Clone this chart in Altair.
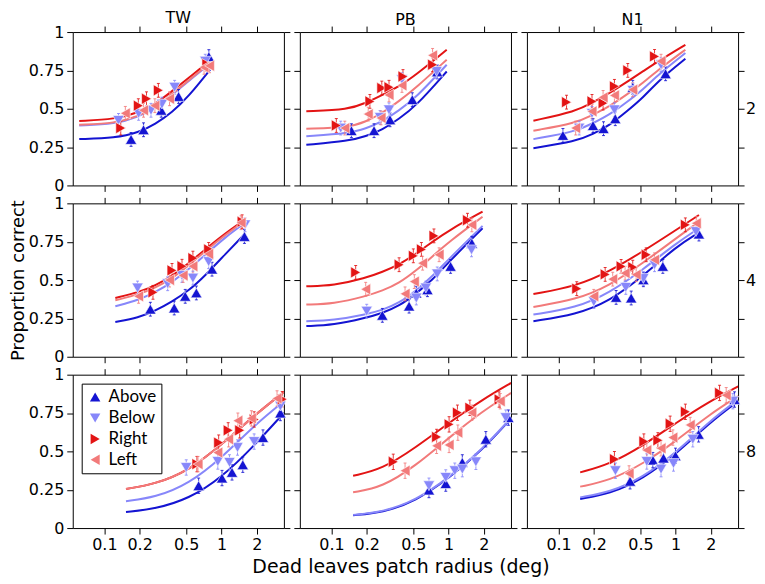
import altair as alt
import pandas as pd

SERIES = ["Above", "Below", "Right", "Left"]
COLORS = ["#1414d2", "#8787fa", "#e31414", "#f27a7a"]
SHAPES = ["triangle-up", "triangle-down", "triangle-right", "triangle-left"]
SUBJECTS = ["TW", "PB", "N1"]
PATCH_SIZES = ["2", "4", "8"]
X_TICKS = [0.1, 0.2, 0.5, 1, 2]
Y_TICKS = [0, 0.25, 0.5, 0.75, 1]
X_DOMAIN = [0.0537, 3.41]
ERR = {"2": 0.045, "4": 0.045, "8": 0.05}
X_TITLE = "Dead leaves patch radius (deg)"
Y_TITLE = "Proportion correct"

# ---------------- data points (x = radius in deg, y = proportion correct)
pts_TW_2 = {
    "Above": ([0.169, 0.216, 0.306, 0.43, 0.78], [0.30, 0.363, 0.49, 0.58, 0.84]),
    "Below": ([0.132, 0.196, 0.25, 0.31, 0.398, 0.727], [0.424, 0.47, 0.49, 0.53, 0.64, 0.81]),
    "Right": ([0.138, 0.195, 0.229, 0.289, 0.75], [0.374, 0.52, 0.565, 0.62, 0.79]),
    "Left": ([0.151, 0.216, 0.27, 0.36, 0.71, 0.79], [0.47, 0.49, 0.52, 0.565, 0.77, 0.78]),
}
pts_PB_2 = {
    "Above": ([0.148, 0.231, 0.316, 0.49, 0.80], [0.357, 0.357, 0.428, 0.559, 0.74]),
    "Below": ([0.12, 0.26, 0.31, 0.40, 0.79], [0.374, 0.443, 0.493, 0.69, 0.743]),
    "Right": ([0.11, 0.213, 0.269, 0.31, 0.408, 0.73], [0.391, 0.548, 0.635, 0.64, 0.71, 0.787]),
    "Left": ([0.13, 0.206, 0.265, 0.31, 0.40, 0.73], [0.374, 0.465, 0.44, 0.59, 0.652, 0.848]),
}
pts_N1_2 = {
    "Above": ([0.109, 0.197, 0.242, 0.305, 0.43, 0.82], [0.326, 0.39, 0.37, 0.435, 0.64, 0.728]),
    "Below": ([0.15, 0.193, 0.30, 0.43, 0.75], [0.374, 0.47, 0.493, 0.62, 0.787]),
    "Right": ([0.117, 0.193, 0.24, 0.30, 0.39, 0.66], [0.543, 0.548, 0.537, 0.646, 0.75, 0.841]),
    "Left": ([0.14, 0.193, 0.24, 0.30, 0.43, 0.75], [0.374, 0.483, 0.574, 0.587, 0.624, 0.81]),
}
pts_TW_4 = {
    "Above": ([0.247, 0.395, 0.49, 0.61, 0.83, 1.57], [0.31, 0.318, 0.394, 0.416, 0.571, 0.784]),
    "Below": ([0.192, 0.347, 0.46, 0.57, 0.777, 1.59], [0.448, 0.476, 0.53, 0.513, 0.62, 0.86]),
    "Right": ([0.26, 0.378, 0.46, 0.57, 0.777, 1.5], [0.42, 0.563, 0.59, 0.643, 0.70, 0.88]),
    "Left": ([0.196, 0.36, 0.47, 0.57, 0.777, 1.47], [0.394, 0.50, 0.53, 0.59, 0.67, 0.874]),
}
pts_PB_4 = {
    "Above": ([0.272, 0.46, 0.53, 0.66, 1.04, 1.58], [0.27, 0.33, 0.415, 0.437, 0.589, 0.74]),
    "Below": ([0.20, 0.53, 0.64, 0.80, 1.57], [0.297, 0.383, 0.448, 0.54, 0.697]),
    "Right": ([0.161, 0.378, 0.50, 0.586, 0.75, 1.45], [0.55, 0.60, 0.658, 0.70, 0.788, 0.89]),
    "Left": ([0.196, 0.425, 0.51, 0.60, 0.83, 1.58], [0.44, 0.41, 0.49, 0.61, 0.665, 0.86]),
}
pts_N1_4 = {
    "Above": ([0.31, 0.417, 0.53, 0.777, 1.58], [0.387, 0.383, 0.502, 0.589, 0.80]),
    "Below": ([0.20, 0.375, 0.53, 0.66, 1.49], [0.36, 0.452, 0.51, 0.60, 0.816]),
    "Right": ([0.143, 0.25, 0.342, 0.43, 0.56, 1.21], [0.444, 0.537, 0.589, 0.584, 0.665, 0.86]),
    "Left": ([0.20, 0.29, 0.37, 0.46, 0.66, 1.5], [0.394, 0.506, 0.545, 0.535, 0.632, 0.87]),
}
pts_TW_8 = {
    "Above": ([0.638, 1.01, 1.23, 1.52, 2.26, 3.18], [0.276, 0.326, 0.363, 0.413, 0.59, 0.75]),
    "Below": ([0.50, 0.93, 1.17, 1.37, 1.9, 3.18], [0.395, 0.434, 0.428, 0.525, 0.564, 0.795]),
    "Right": ([0.617, 0.946, 1.14, 1.43, 1.9, 3.3], [0.417, 0.557, 0.637, 0.637, 0.708, 0.84]),
    "Left": ([0.63, 0.93, 1.15, 1.38, 1.8, 2.98], [0.417, 0.492, 0.579, 0.70, 0.715, 0.845]),
}
pts_PB_8 = {
    "Above": ([0.68, 0.946, 1.31, 2.08, 3.24], [0.248, 0.29, 0.428, 0.579, 0.72]),
    "Below": ([0.68, 0.946, 1.13, 1.31, 1.71, 3.08], [0.276, 0.33, 0.374, 0.384, 0.432, 0.72]),
    "Right": ([0.337, 0.79, 1.01, 1.19, 1.52, 2.7], [0.432, 0.594, 0.676, 0.752, 0.784, 0.838]),
    "Left": ([0.425, 0.79, 1.01, 1.2, 1.58, 2.76], [0.374, 0.536, 0.542, 0.622, 0.752, 0.827]),
}
pts_N1_8 = {
    "Above": ([0.408, 0.638, 0.787, 0.996, 1.57, 3.18], [0.305, 0.443, 0.456, 0.471, 0.611, 0.838]),
    "Below": ([0.306, 0.567, 0.75, 0.958, 1.4, 3.08], [0.374, 0.434, 0.384, 0.421, 0.579, 0.827]),
    "Right": ([0.30, 0.535, 0.705, 0.897, 1.21, 2.37], [0.449, 0.564, 0.572, 0.68, 0.758, 0.881]),
    "Left": ([0.40, 0.567, 0.75, 0.946, 1.33, 2.7], [0.356, 0.508, 0.52, 0.59, 0.672, 0.866]),
}

# ---------------- fitted curves at a few radii
cx_TW_2 = [0.061, 0.124, 0.196, 0.272, 0.378, 0.524, 0.80]
cv_TW_2 = {
    "Above": [0.302, 0.309, 0.345, 0.40, 0.475, 0.58, 0.755],
    "Below": [0.39, 0.40, 0.448, 0.505, 0.59, 0.68, 0.795],
    "Right": [0.42, 0.432, 0.475, 0.53, 0.615, 0.70, 0.815],
    "Left": [0.395, 0.405, 0.452, 0.51, 0.595, 0.685, 0.80],
}
cx_PB_2 = [0.061, 0.141, 0.196, 0.272, 0.378, 0.524, 0.964]
cv_PB_2 = {
    "Above": [0.265, 0.29, 0.32, 0.363, 0.435, 0.515, 0.743],
    "Below": [0.32, 0.341, 0.37, 0.417, 0.49, 0.57, 0.787],
    "Right": [0.483, 0.495, 0.537, 0.59, 0.646, 0.72, 0.885],
    "Left": [0.37, 0.378, 0.415, 0.472, 0.55, 0.635, 0.82],
}
cx_N1_2 = [0.061, 0.141, 0.196, 0.272, 0.378, 0.524, 0.728, 1.21]
cv_N1_2 = {
    "Above": [0.243, 0.287, 0.335, 0.391, 0.48, 0.57, 0.69, 0.826],
    "Below": [0.302, 0.352, 0.405, 0.461, 0.54, 0.624, 0.73, 0.863],
    "Right": [0.422, 0.483, 0.54, 0.602, 0.672, 0.743, 0.815, 0.917],
    "Left": [0.357, 0.407, 0.46, 0.515, 0.59, 0.667, 0.76, 0.885],
}
cx_TW_4 = [0.124, 0.196, 0.272, 0.378, 0.524, 0.728, 1.08, 1.60]
cv_TW_4 = {
    "Above": [0.227, 0.255, 0.30, 0.36, 0.43, 0.53, 0.67, 0.805],
    "Below": [0.329, 0.37, 0.42, 0.485, 0.57, 0.665, 0.78, 0.875],
    "Right": [0.383, 0.42, 0.465, 0.524, 0.61, 0.70, 0.805, 0.896],
    "Left": [0.368, 0.405, 0.45, 0.51, 0.595, 0.69, 0.795, 0.89],
}
cx_PB_4 = [0.061, 0.104, 0.196, 0.272, 0.378, 0.524, 0.728, 1.01, 1.95]
cv_PB_4 = {
    "Above": [0.20, 0.206, 0.253, 0.285, 0.33, 0.41, 0.50, 0.62, 0.838],
    "Below": [0.232, 0.237, 0.275, 0.305, 0.35, 0.43, 0.524, 0.64, 0.853],
    "Right": [0.459, 0.463, 0.513, 0.553, 0.60, 0.67, 0.75, 0.825, 0.946],
    "Left": [0.34, 0.345, 0.394, 0.43, 0.48, 0.56, 0.654, 0.75, 0.913],
}
cx_N1_4 = [0.061, 0.141, 0.272, 0.524, 1.01, 1.58]
cv_N1_4 = {
    "Above": [0.232, 0.275, 0.361, 0.524, 0.719, 0.81],
    "Below": [0.275, 0.318, 0.416, 0.567, 0.74, 0.838],
    "Right": [0.409, 0.459, 0.556, 0.686, 0.827, 0.924],
    "Left": [0.325, 0.372, 0.463, 0.61, 0.773, 0.88],
}
cx_row8 = [0.153, 0.272, 0.524, 1.01, 1.95, 3.42]
cv_TW_8 = {
    "Above": [0.104, 0.125, 0.19, 0.33, 0.546, 0.752],
    "Below": [0.175, 0.20, 0.287, 0.46, 0.676, 0.827],
    "Right": [0.255, 0.287, 0.374, 0.546, 0.741, 0.888],
    "Left": [0.255, 0.287, 0.374, 0.546, 0.741, 0.888],
}
cv_PB_8 = {
    "Above": [0.084, 0.10, 0.175, 0.325, 0.51, 0.715],
    "Below": [0.086, 0.104, 0.179, 0.33, 0.514, 0.719],
    "Right": [0.341, 0.384, 0.525, 0.687, 0.838, 0.946],
    "Left": [0.233, 0.266, 0.406, 0.59, 0.762, 0.881],
}
cv_N1_8 = {
    "Above": [0.19, 0.222, 0.32, 0.482, 0.687, 0.827],
    "Below": [0.20, 0.233, 0.33, 0.492, 0.698, 0.838],
    "Right": [0.363, 0.415, 0.536, 0.687, 0.827, 0.924],
    "Left": [0.27, 0.309, 0.417, 0.568, 0.741, 0.86],
}

PANELS = {
    ("TW", "2"): (pts_TW_2, cx_TW_2, cv_TW_2),
    ("PB", "2"): (pts_PB_2, cx_PB_2, cv_PB_2),
    ("N1", "2"): (pts_N1_2, cx_N1_2, cv_N1_2),
    ("TW", "4"): (pts_TW_4, cx_TW_4, cv_TW_4),
    ("PB", "4"): (pts_PB_4, cx_PB_4, cv_PB_4),
    ("N1", "4"): (pts_N1_4, cx_N1_4, cv_N1_4),
    ("TW", "8"): (pts_TW_8, cx_row8, cv_TW_8),
    ("PB", "8"): (pts_PB_8, cx_row8, cv_PB_8),
    ("N1", "8"): (pts_N1_8, cx_row8, cv_N1_8),
}

FONT = "DejaVu Sans"
W, H = 212, 154
ROW_GAP, COL_GAP = 18, 16
MARK_SIZE = 130


def panel_frame(subj, size):
    pts, cx, cv = PANELS[(subj, size)]
    rows = []
    for s in SERIES:
        xs, ys = pts[s]
        for x, y in zip(xs, ys):
            rows.append(dict(kind="point", series=s, x=x, y=y,
                             lo=y - ERR[size], hi=y + ERR[size]))
    for s in SERIES:
        for x, y in zip(cx, cv[s]):
            rows.append(dict(kind="curve", series=s, x=x, y=y, lo=y, hi=y))
    return pd.DataFrame(rows)


def panel(ri, ci):
    subj, size = SUBJECTS[ci], PATCH_SIZES[ri]
    base = alt.Chart(panel_frame(subj, size))
    xs = alt.Scale(type="log", domain=X_DOMAIN, nice=False)
    ys = alt.Scale(domain=[0, 1], nice=False, zero=False)
    cs = alt.Scale(domain=SERIES, range=COLORS)
    ss = alt.Scale(domain=SERIES, range=SHAPES)

    xb_kw = dict(orient="bottom", values=X_TICKS, format="~g", labels=(ri == 2))
    if ri == 2 and ci == 1:
        xb_kw.update(title=X_TITLE, titlePadding=5, titleFontSize=19, titleX=101)
    else:
        xb_kw.update(title=None)
    xb = alt.Axis(**xb_kw)
    xt = alt.Axis(orient="top", values=X_TICKS, labels=False, title=None)

    yl_kw = dict(orient="left", values=Y_TICKS, format=".2~f", labels=(ci == 0))
    if ci == 0 and ri == 1:
        yl_kw.update(title=Y_TITLE, titlePadding=1)
    else:
        yl_kw.update(title=None)
    yl = alt.Axis(**yl_kw)
    yr_kw = dict(orient="right", values=Y_TICKS, labels=False)
    if ci == 2:
        yr_kw.update(title=size, titleAngle=0, titleAlign="left", titleBaseline="middle",
                     titlePadding=1, titleFontSize=16)
    else:
        yr_kw.update(title=None)
    yr = alt.Axis(**yr_kw)

    pts = base.transform_filter(alt.datum.kind == "point")
    has_legend = (ri == 2 and ci == 0)
    layers = []
    if has_legend:
        leg = alt.Legend(title=None, orient="top-left", offset=9, padding=5,
                         strokeColor="#000", fillColor="#fff", labelFont="Lato",
                         labelFontSize=17, labelColor="#000", symbolSize=110,
                         symbolStrokeWidth=0, symbolOpacity=1, rowPadding=3,
                         labelOffset=5, cornerRadius=0)
        cenc = alt.Color("series:N", scale=cs, legend=leg)
        senc = alt.Shape("series:N", scale=ss, legend=leg)
        # legend carrier (first layer, so its legend settings take precedence)
        layers.append(
            pts.mark_point(filled=True, size=MARK_SIZE, opacity=0).encode(
                x=alt.X("x:Q", scale=xs, axis=None),
                y=alt.Y("y:Q", scale=ys, axis=None),
                color=cenc,
                shape=senc,
            )
        )
    else:
        cenc = alt.Color("series:N", scale=cs, legend=None)
        senc = alt.Shape("series:N", scale=ss, legend=None)

    for k, s in enumerate(SERIES):
        layers.append(
            base.transform_filter((alt.datum.kind == "curve") & (alt.datum.series == s))
            .mark_line(strokeWidth=2, interpolate="basis", clip=True)
            .encode(
                x=alt.X("x:Q", scale=xs, axis=(xt if k == 0 else None)),
                y=alt.Y("y:Q", scale=ys, axis=(yr if k == 0 else None)),
                color=alt.Color("series:N", scale=cs, legend=None),
            )
        )
    layers.append(
        pts.mark_rule(strokeWidth=1, opacity=0.85).encode(
            x=alt.X("x:Q", scale=xs, axis=None),
            y=alt.Y("lo:Q", scale=ys, axis=None),
            y2="hi:Q",
            color=alt.Color("series:N", scale=cs, legend=None),
        )
    )
    for end in ["lo", "hi"]:
        layers.append(
            pts.mark_tick(orient="horizontal", size=3, thickness=1, opacity=0.85).encode(
                x=alt.X("x:Q", scale=xs, axis=None),
                y=alt.Y(f"{end}:Q", scale=ys, axis=None),
                color=alt.Color("series:N", scale=cs, legend=None),
            )
        )
    layers.append(
        pts.mark_point(filled=True, size=MARK_SIZE, opacity=1, stroke="#ffffff", strokeWidth=0.6)
        .encode(
            x=alt.X("x:Q", scale=xs, axis=xb),
            y=alt.Y("y:Q", scale=ys, axis=yl),
            color=cenc,
            shape=senc,
        )
    )
    ch = alt.layer(*layers).resolve_axis(x="independent", y="independent")
    props = dict(width=W, height=H)
    if ri == 0:
        props["title"] = alt.TitleParams(text=subj, frame="group", offset=-2, fontSize=16,
                                         font=FONT, fontWeight="normal", anchor="middle",
                                         color="#000")
    return ch.properties(**props)


panels = [panel(r, c) for r in range(3) for c in range(3)]

chart = (
    alt.concat(*panels, columns=3, spacing={"row": ROW_GAP, "column": COL_GAP}, bounds="flush")
    .resolve_legend(color="independent", shape="independent")
    .properties(padding=0, background="#ffffff")
    .configure_view(stroke="#000000", strokeWidth=1)
    .configure_axis(grid=False, domain=False, tickColor="#000", tickSize=6, tickWidth=1,
                    labelFont=FONT, labelFontSize=16, labelColor="#000", labelPadding=3,
                    labelFlush=False, titleFont=FONT, titleFontSize=18,
                    titleFontWeight="normal", titleColor="#000")
)

chart.save("out.html", embed_options={"renderer": "svg", "actions": False})
